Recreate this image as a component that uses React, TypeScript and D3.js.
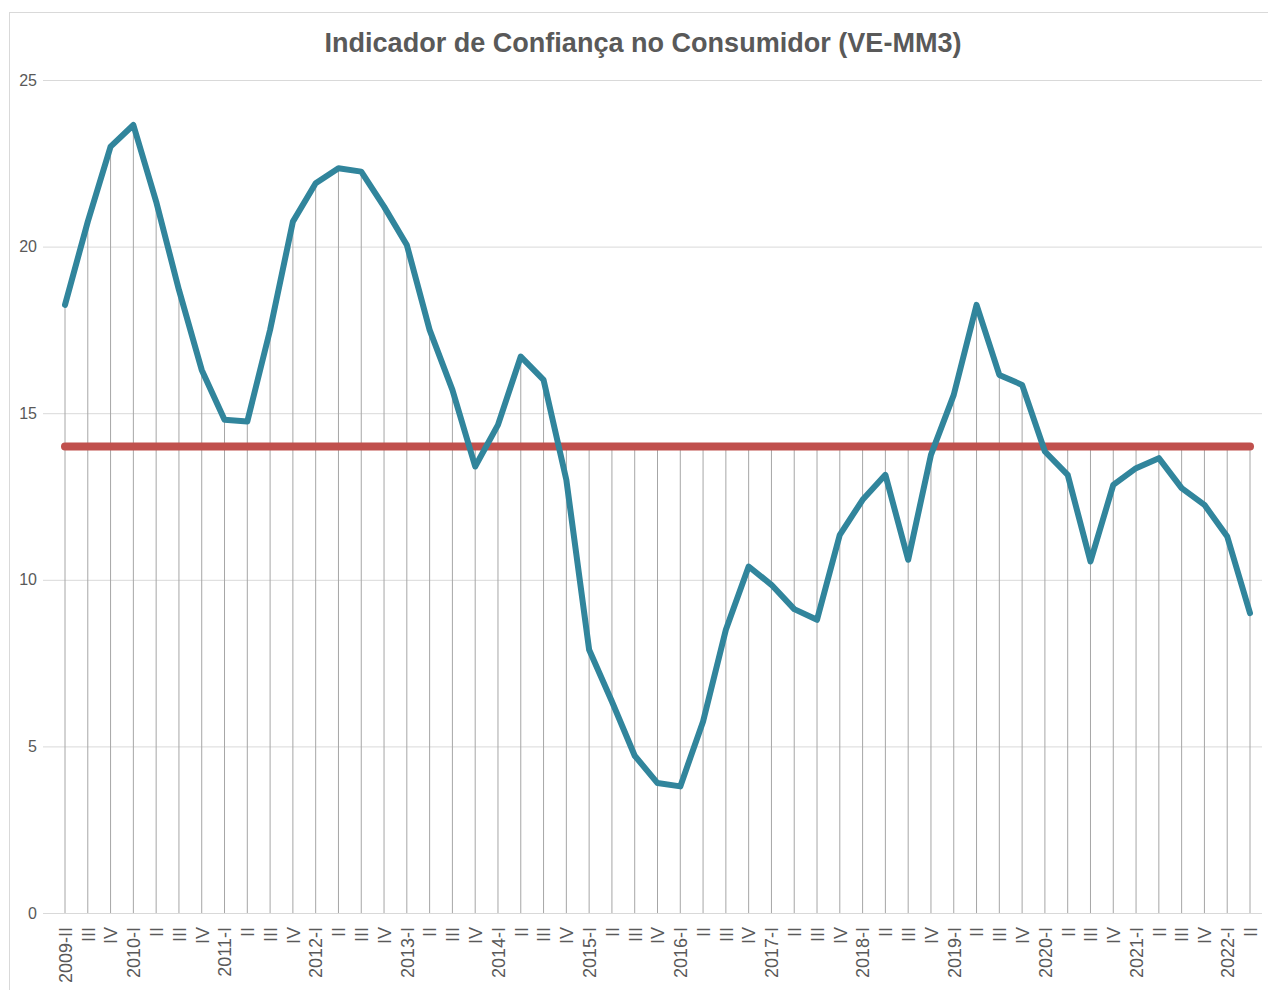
import React from 'react';
import * as d3 from 'd3';

const quarters: string[] = [
  '2009-II', 'III', 'IV',
  '2010-I', 'II', 'III', 'IV',
  '2011-I', 'II', 'III', 'IV',
  '2012-I', 'II', 'III', 'IV',
  '2013-I', 'II', 'III', 'IV',
  '2014-I', 'II', 'III', 'IV',
  '2015-I', 'II', 'III', 'IV',
  '2016-I', 'II', 'III', 'IV',
  '2017-I', 'II', 'III', 'IV',
  '2018-I', 'II', 'III', 'IV',
  '2019-I', 'II', 'III', 'IV',
  '2020-I', 'II', 'III', 'IV',
  '2021-I', 'II', 'III', 'IV',
  '2022-I', 'II',
];

const icc: number[] = [
  18.25, 20.75, 23.0,
  23.65, 21.35, 18.7, 16.3,
  14.8, 14.75, 17.5, 20.75,
  21.9, 22.35, 22.25, 21.2,
  20.05, 17.5, 15.7, 13.4,
  14.65, 16.7, 16.0, 13.0,
  7.9, 6.35, 4.72, 3.9,
  3.8, 5.75, 8.5, 10.4,
  9.85, 9.12, 8.8, 11.35,
  12.4, 13.15, 10.6, 13.75,
  15.55, 18.25, 16.15, 15.85,
  13.85, 13.15, 10.55, 12.85,
  13.35, 13.65, 12.75, 12.25,
  11.3, 9.0,
];

const average = 14;
const yTicks: number[] = [0, 5, 10, 15, 20, 25];

const App: React.FC = () => {
  const svgRef = React.useRef<SVGSVGElement>(null);

  React.useEffect(() => {
    if (!svgRef.current) return;
    const svg = d3.select(svgRef.current);
    svg.selectAll('*').remove();

    const x = d3.scalePoint<number>()
      .domain(d3.range(quarters.length))
      .range([65, 1250]);
    const y = d3.scaleLinear().domain([0, 25]).range([913, 80]);

    // chart frame
    svg.append('rect')
      .attr('x', 9.5).attr('y', 12.5)
      .attr('width', 1400).attr('height', 1200)
      .attr('fill', 'white')
      .attr('stroke', '#d9d9d9');

    // title
    svg.append('text')
      .attr('x', 643).attr('y', 52)
      .attr('text-anchor', 'middle')
      .attr('textLength', 637)
      .attr('lengthAdjust', 'spacingAndGlyphs')
      .style('font-family', '"Liberation Sans", Arial, sans-serif')
      .style('font-size', '27px')
      .style('font-weight', 'bold')
      .style('fill', '#595959')
      .text('Indicador de Confiança no Consumidor (VE-MM3)');

    // y grid + labels
    const yAxis = svg.append('g')
      .attr('transform', 'translate(43,0)')
      .call(d3.axisLeft(y).tickValues(yTicks).tickSize(-1219).tickPadding(6));
    yAxis.select('.domain').remove();
    yAxis.selectAll('line').attr('stroke', '#d9d9d9').attr('stroke-width', 1);
    yAxis.selectAll('text')
      .attr('x', -6)
      .style('font-family', '"Liberation Sans", Arial, sans-serif')
      .style('font-size', '16px')
      .style('fill', '#595959');

    // drop lines
    svg.append('g')
      .selectAll('line')
      .data(icc)
      .join('line')
      .attr('x1', (_, i) => x(i)!)
      .attr('x2', (_, i) => x(i)!)
      .attr('y1', d => y(Math.max(d, average)))
      .attr('y2', y(0))
      .attr('stroke', '#a6a6a6')
      .attr('stroke-width', 1);

    // x labels
    const xAxis = svg.append('g')
      .attr('transform', `translate(0,${y(0)})`)
      .call(d3.axisBottom(x).tickSize(0).tickFormat(i => quarters[i as number]));
    xAxis.select('.domain').remove();
    xAxis.selectAll('text')
      .attr('transform', 'rotate(-90)')
      .attr('x', -14)
      .attr('y', 0)
      .attr('dy', '0.35em')
      .style('text-anchor', 'end')
      .style('font-family', '"Liberation Sans", Arial, sans-serif')
      .style('font-size', '18px')
      .style('fill', '#595959');

    // average line
    svg.append('path')
      .datum(icc)
      .attr('d', d3.line<number>().x((_, i) => x(i)!).y(() => y(average)))
      .attr('fill', 'none')
      .attr('stroke', '#c0504d')
      .attr('stroke-width', 8)
      .attr('stroke-linecap', 'round');

    // main series
    svg.append('path')
      .datum(icc)
      .attr('d', d3.line<number>().x((_, i) => x(i)!).y(d => y(d)))
      .attr('fill', 'none')
      .attr('stroke', '#31859c')
      .attr('stroke-width', 6)
      .attr('stroke-linejoin', 'round')
      .attr('stroke-linecap', 'round');
  }, []);

  return (
    <svg
      ref={svgRef}
      width={1268}
      height={990}
      style={{ position: 'absolute', left: 0, top: 0, background: 'white' }}
    />
  );
};

export default App;
